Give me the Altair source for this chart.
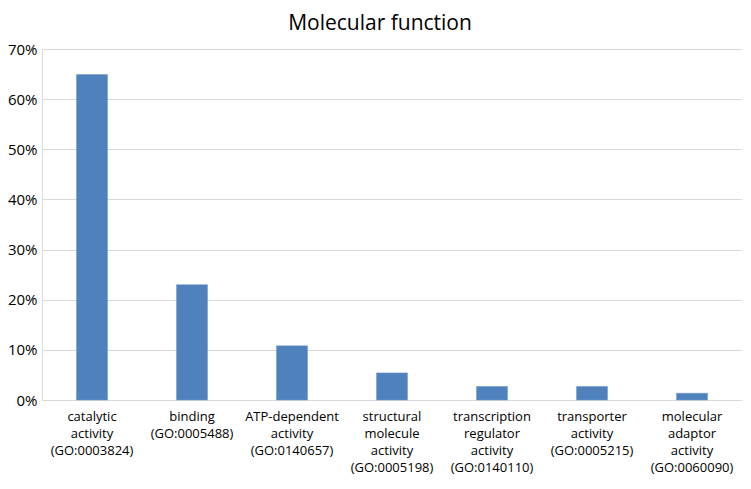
import altair as alt
import pandas as pd

categories = [
    "catalytic\nactivity\n(GO:0003824)",
    "binding\n(GO:0005488)",
    "ATP-dependent\nactivity\n(GO:0140657)",
    "structural\nmolecule\nactivity\n(GO:0005198)",
    "transcription\nregulator\nactivity\n(GO:0140110)",
    "transporter\nactivity\n(GO:0005215)",
    "molecular\nadaptor\nactivity\n(GO:0060090)",
]
values = [0.649, 0.230, 0.108, 0.054, 0.027, 0.027, 0.0135]
y_ticks = [0, 0.1, 0.2, 0.3, 0.4, 0.5, 0.6, 0.7]

df = pd.DataFrame({"cat": categories, "val": values})

FONT = "Open Sans"

chart = (
    alt.Chart(df)
    .mark_bar(color="#4f81bd", stroke="#6a97cc", strokeWidth=0.5)
    .encode(
        x=alt.X(
            "cat:N",
            sort=categories,
            title=None,
            scale=alt.Scale(paddingInner=0.69, paddingOuter=0.345),
            axis=alt.Axis(
                labelAngle=0,
                labelExpr="split(datum.label, '\\n')",
                labelFontSize=13,
                labelLineHeight=17,
                labelColor="#000000",
                labelFont=FONT,
                labelPadding=10,
                labelBaseline="top",
                ticks=False,
                domain=False,
                grid=False,
            ),
        ),
        y=alt.Y(
            "val:Q",
            title=None,
            scale=alt.Scale(domain=[0, 0.7], nice=False),
            axis=alt.Axis(
                values=y_ticks,
                format=".0%",
                labelFontSize=15,
                labelColor="#000000",
                labelFont=FONT,
                labelPadding=5,
                ticks=False,
                domain=False,
                grid=True,
                gridColor="#d9d9d9",
                gridWidth=1,
            ),
        ),
    )
    .properties(
        width=700,
        height=351,
        title=alt.TitleParams(
            "Molecular function",
            fontSize=21,
            font=FONT,
            fontWeight="normal",
            color="#000000",
            anchor="middle",
            offset=8,
            dx=-12,
        ),
        autosize=alt.AutoSizeParams(type="none"),
        padding={"left": 34, "top": 41, "right": 0, "bottom": 81},
    )
    .configure_view(stroke=None)
    .configure(background="white")
)

chart.save("out.html", embed_options={"renderer": "svg", "actions": False})
